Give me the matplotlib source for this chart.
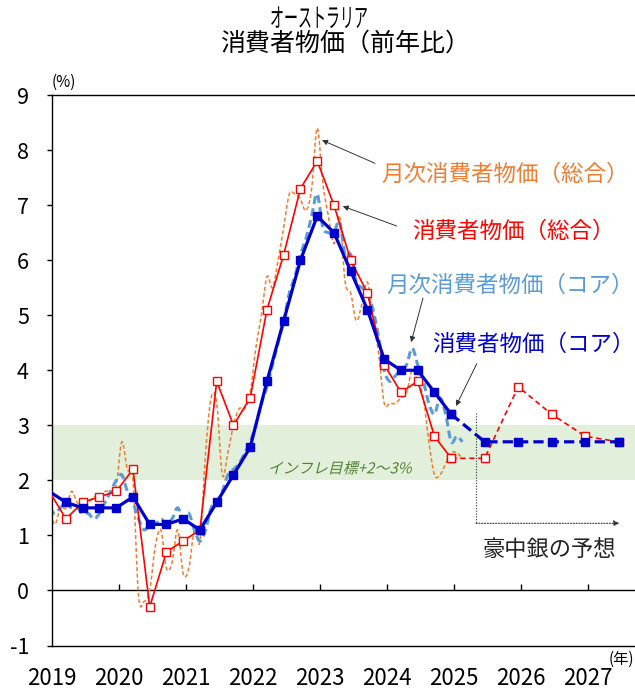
import numpy as np
import pandas as pd
import matplotlib
matplotlib.use("Agg")
import matplotlib.pyplot as plt
from matplotlib.path import Path
from matplotlib.patches import PathPatch
from matplotlib import patheffects, transforms

plt.rcParams['font.family'] = ['Noto Sans CJK JP', 'DejaVu Sans']

# ---------------- data (annual % change) ----------------
monthly_periods = pd.period_range("2018-12", "2025-02", freq="M")
cpi_monthly_headline = [
    1.5,
    1.2, 1.5, 1.5, 1.8, 1.6, 1.5, 1.6, 1.7, 1.7, 1.8, 1.8, 1.9,    # 2019
    2.7, 2.2, 2.0, -0.1, -0.2, 0.0, 0.8, 1.1, 0.4, 0.5, 1.1, 0.3,  # 2020
    0.4, 1.1, 0.9, 2.5, 3.5, 3.4, 2.1, 2.5, 3.0, 3.3, 3.3, 3.6,    # 2021
    4.4, 5.0, 5.7, 5.5, 6.0, 6.6, 7.2, 7.2, 7.1, 6.9, 7.3, 8.4,    # 2022
    7.4, 6.8, 6.3, 6.8, 5.6, 5.4, 4.9, 5.2, 5.6, 4.9, 4.3, 3.4,    # 2023
    3.4, 3.4, 3.5, 3.6, 4.0, 3.8, 3.5, 2.7, 2.1, 2.1, 2.3, 2.5,    # 2024
    2.5, 2.4,                                                      # 2025
]
cpi_monthly_core = [
    1.5,
    1.4, 1.5, 1.6, 1.5, 1.5, 1.4, 1.4, 1.3, 1.4, 1.6, 1.8, 2.0,    # 2019
    2.1, 1.8, 1.6, 1.3, 1.1, 1.2, 1.2, 1.3, 1.2, 1.3, 1.5, 1.3,    # 2020
    1.4, 1.1, 0.9, 1.1, 1.5, 1.6, 1.8, 2.1, 2.2, 2.3, 2.5, 2.7,    # 2021
    3.0, 3.4, 3.7, 4.1, 4.5, 4.9, 5.4, 5.7, 6.1, 6.4, 6.8, 7.2,    # 2022
    6.6, 6.5, 6.5, 6.7, 6.1, 6.1, 5.6, 5.5, 5.4, 5.1, 4.6, 4.0,    # 2023
    3.8, 3.9, 4.0, 4.1, 4.4, 4.1, 3.8, 3.4, 3.2, 3.5, 3.2, 2.7,    # 2024
    2.8, 2.7,                                                      # 2025
]

quarterly_periods = pd.period_range("2018Q4", "2024Q4", freq="Q")
cpi_quarterly_headline = [
    1.8,
    1.3, 1.6, 1.7, 1.8,
    2.2, -0.3, 0.7, 0.9,
    1.1, 3.8, 3.0, 3.5,
    5.1, 6.1, 7.3, 7.8,
    7.0, 6.0, 5.4, 4.1,
    3.6, 3.8, 2.8, 2.4,
]
cpi_quarterly_core = [
    1.8,
    1.6, 1.5, 1.5, 1.5,
    1.7, 1.2, 1.2, 1.3,
    1.1, 1.6, 2.1, 2.6,
    3.8, 4.9, 6.0, 6.8,
    6.5, 5.8, 5.1, 4.2,
    4.0, 4.0, 3.6, 3.2,
]

# RBA forecast path (first entry = last actual, Dec 2024)
forecast_periods = pd.PeriodIndex(
    ["2024-12", "2025-06", "2025-12", "2026-06", "2026-12", "2027-06"], freq="M")
forecast_headline = [2.4, 2.4, 3.7, 3.2, 2.8, 2.7]
forecast_core = [3.2, 2.7, 2.7, 2.7, 2.7, 2.7]

years = list(range(2019, 2028))
target_band = (2.0, 3.0)
forecast_start = 2025.33

# ---------------- colours ----------------
C_ORANGE = "#ED7D31"
C_LBLUE = "#5B9BD5"
C_RED = "#FF0000"
C_BLUE = "#0000CC"
C_BAND = "#E2EFDA"
C_BANDTXT = "#548235"


def month_pos(periods):
    """Place each month at the middle of its slot on a year axis."""
    mp = [p.asfreq("M", how="end") for p in periods]
    return np.array([p.year + (p.month - 0.5) / 12 for p in mp])


def smooth_path(x, y):
    """Cubic Bezier path through the points (Catmull-Rom style smoothing)."""
    pts = np.column_stack([x, y])
    n = len(pts)
    verts = [pts[0]]
    codes = [Path.MOVETO]
    for i in range(n - 1):
        p0 = pts[max(i - 1, 0)]
        p1 = pts[i]
        p2 = pts[i + 1]
        p3 = pts[min(i + 2, n - 1)]
        verts += [p1 + (p2 - p0) / 6, p2 - (p3 - p1) / 6, p2]
        codes += [Path.CURVE4] * 3
    return Path(verts, codes)


class GlyphTransform(patheffects.AbstractPathEffect):
    """Draw text glyphs through an extra affine (slant / horizontal scale)."""

    def __init__(self, skew_deg=0.0, xscale=1.0):
        super().__init__()
        self._t = transforms.Affine2D().scale(xscale, 1.0).skew_deg(skew_deg, 0)

    def draw_path(self, renderer, gc, tpath, affine, rgbFace=None):
        renderer.draw_path(gc, tpath, self._t + affine, rgbFace)


# ---------------- figure ----------------
W, H = 635, 690
fig = plt.figure(figsize=(W / 100, H / 100), dpi=100)
ax = fig.add_axes([52 / W, 1 - 645.5 / H, 603 / W, 550.5 / H])
ax.set_xlim(2019, 2028)
ax.set_ylim(-1, 9)

ax.axhspan(*target_band, color=C_BAND, lw=0, zorder=0)

# monthly series (smoothed dashed lines)
xm = month_pos(monthly_periods)
ax.add_patch(PathPatch(smooth_path(xm, cpi_monthly_headline), facecolor="none",
                       edgecolor=C_ORANGE, lw=1.1, linestyle=(0, (2.6, 1.6)),
                       zorder=2))
ax.add_patch(PathPatch(smooth_path(xm, cpi_monthly_core), facecolor="none",
                       edgecolor=C_LBLUE, lw=2.2, linestyle=(0, (2.6, 1.4)),
                       zorder=2.5))

# quarterly series
xq = month_pos(quarterly_periods)
ax.plot(xq, cpi_quarterly_headline, color=C_RED, lw=1.2, marker="s", ms=5.6,
        mfc="white", mec=C_RED, mew=1.0, markevery=slice(1, None), zorder=3)
ax.plot(xq, cpi_quarterly_core, color=C_BLUE, lw=2.3, marker="s", ms=6.0,
        mfc=C_BLUE, mec=C_BLUE, markevery=slice(1, None), zorder=4)

# forecasts
xf = month_pos(forecast_periods)
ax.plot(xf, forecast_headline, color=C_RED, lw=1.2, linestyle=(0, (3.2, 2.2)),
        marker="s", ms=5.6, mfc="white", mec=C_RED, mew=1.0, zorder=3)
ax.plot(xf, forecast_core, color=C_BLUE, lw=2.3, linestyle=(0, (3.2, 1.6)),
        marker="s", ms=6.0, mfc=C_BLUE, mec=C_BLUE, zorder=4)

# ---------------- axes styling ----------------
ax.spines["right"].set_visible(False)
for s in ("left", "top", "bottom"):
    ax.spines[s].set_linewidth(1.0)
    ax.spines[s].set_color("black")

ax.set_yticks(range(-1, 10))
ax.set_yticklabels([str(v) for v in range(-1, 10)])
ax.tick_params(axis="y", direction="out", length=3.6, width=1.0, pad=13,
               labelsize=15.5)
ax.set_xticks(years)
ax.set_xticklabels([str(y) for y in years])
ax.tick_params(axis="x", length=0, pad=15.5, labelsize=16)

# zero line with year ticks
zero_axis = ax.secondary_xaxis(0.1)
zero_axis.set_xticks(years[1:])
zero_axis.tick_params(axis="x", direction="in", length=4, width=1.0,
                      labelbottom=False)
zero_axis.spines["bottom"].set_linewidth(1.0)

# ---------------- text ----------------
fig.text(270 / W, 1 - 19.5 / H, "オーストラリア", ha="left", va="center",
         fontsize=19, path_effects=[GlyphTransform(xscale=0.53)])
fig.text(345 / W, 1 - 44 / H, "消費者物価（前年比）", ha="center", va="center",
         fontsize=18)
fig.text(64 / W, 1 - 82 / H, "(%)", ha="center", va="center", fontsize=11)
fig.text(634 / W, 1 - 659 / H, "(年)", ha="right", va="center", fontsize=11)

ax.text(2022.22, 2.2, "インフレ目標+2～3%", color=C_BANDTXT, fontsize=10.8,
        ha="left", va="center", zorder=5,
        path_effects=[GlyphTransform(skew_deg=14)])

labels = [
    ("月次消費者物価（総合）", C_ORANGE, 2023.92, 7.56, (2023.03, 8.18), (2023.82, 7.76)),
    ("消費者物価（総合）", C_RED, 2024.38, 6.53, (2023.34, 6.98), (2024.145, 6.62)),
    ("月次消費者物価（コア）", C_LBLUE, 2023.99, 5.55, (2024.36, 4.51), (2024.537, 5.31)),
    ("消費者物価（コア）", C_BLUE, 2024.67, 4.47, (2025.03, 3.35), (2025.34, 4.12)),
]
for txt, col, tx, ty, head, tail in labels:
    ax.text(tx, ty, txt, color=col, fontsize=16.2, ha="left", va="center",
            zorder=6)
    ax.annotate("", xy=head, xytext=tail,
                arrowprops=dict(arrowstyle="-|>", color="#333333", lw=0.7,
                                mutation_scale=8, shrinkA=0, shrinkB=0),
                zorder=6)

# forecast bracket
ax.plot([forecast_start, forecast_start], [3.22, 1.22], color="#333333",
        lw=0.8, linestyle=(0, (1, 1.5)), zorder=5)
ax.annotate("", xy=(2027.47, 1.22), xytext=(forecast_start, 1.22),
            arrowprops=dict(arrowstyle="-|>", color="#333333", lw=0.8,
                            linestyle=(0, (1, 1.5)), mutation_scale=8,
                            shrinkA=0, shrinkB=0), zorder=5)
ax.text(2026.42, 0.75, "豪中銀の予想", color="#222222", fontsize=16,
        ha="center", va="center", zorder=6)

fig.savefig("out.png", dpi=100, facecolor="white")
